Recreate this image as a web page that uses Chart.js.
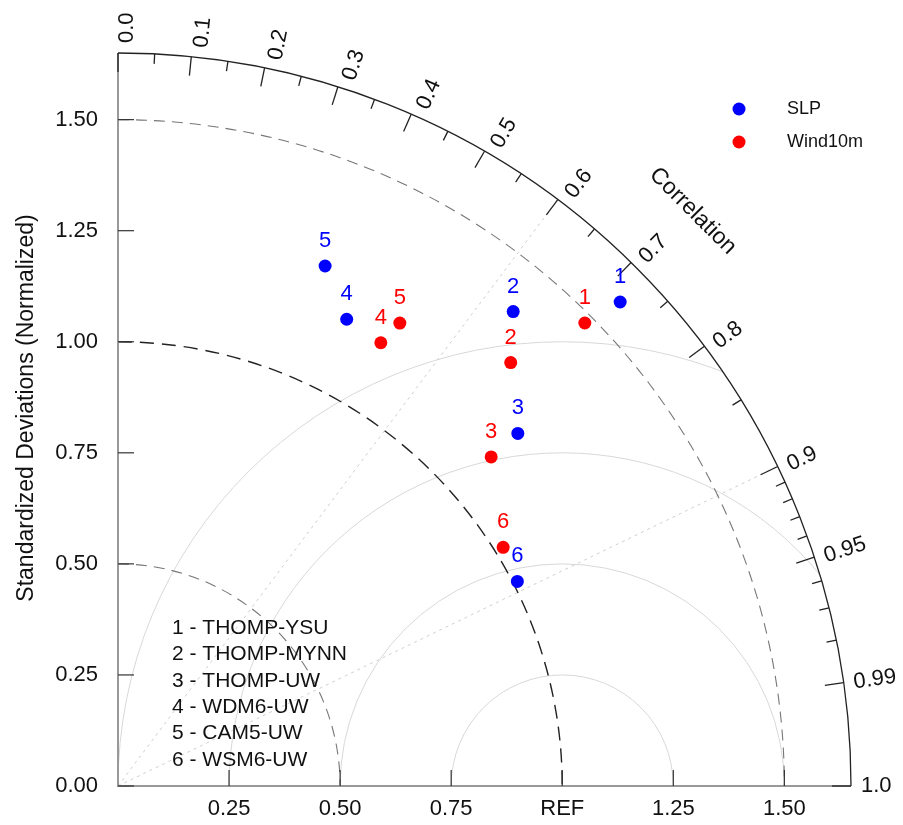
<!DOCTYPE html>
<html><head><meta charset="utf-8">
<script src="https://cdn.jsdelivr.net/npm/chart.js@4.4.0/dist/chart.umd.min.js"></script>
<style>html,body{margin:0;padding:0;background:#fff;}#wrap{width:903px;height:825px;}</style>
</head><body><div id="wrap"><canvas id="c" width="903" height="825"></canvas></div>
<script>
const modelNames = ['THOMP-YSU','THOMP-MYNN','THOMP-UW','WDM6-UW','CAM5-UW','WSM6-UW'];
const seriesNames = ['SLP','Wind10m'];
const seriesColors = ['#0000ff','#ff0000'];
const slpStd  = [1.57,1.39,1.20,1.17,1.26,1.01];
const slpCorr = [0.72,0.64,0.75,0.44,0.37,0.89];
const windStd  = [1.48,1.30,1.12,1.16,1.22,1.02];
const windCorr = [0.71,0.68,0.75,0.51,0.52,0.85];
const stdTickValues = [0,0.25,0.5,0.75,1.0,1.25,1.5];
const stdTickLabels = ['0.00','0.25','0.50','0.75','1.00','1.25','1.50'];
const xTickValues = [0.25,0.5,0.75,1.0,1.25,1.5];
const xTickLabels = ['0.25','0.50','0.75','REF','1.25','1.50'];
const corrMajor = [0,0.1,0.2,0.3,0.4,0.5,0.6,0.7,0.8,0.9,0.95,0.99,1.0];
const corrMajorLabels = ['0.0','0.1','0.2','0.3','0.4','0.5','0.6','0.7','0.8','0.9','0.95','0.99','1.0'];
const corrMinor = [0.05,0.15,0.25,0.35,0.45,0.55,0.65,0.75,0.85,0.91,0.92,0.93,0.94,0.96,0.97,0.98];
const stdArcs = [0.5,1.0,1.5];
const rmsArcs = [0.25,0.5,0.75,1.0];
const corrLines = [0.6,0.9];
const maxStd = 1.65;
const refStd = 1.0;

function toXY(std, corr){
  return {x: std*corr, y: std*Math.sqrt(Math.max(0,1-corr*corr))};
}
const slpPts = slpStd.map((s,i)=>toXY(s,slpCorr[i]));
const windPts = windStd.map((s,i)=>toXY(s,windCorr[i]));

const FONT = '"Liberation Sans", Arial, Helvetica, sans-serif';

const taylorPlugin = {
  id: 'taylor',
  beforeDatasetsDraw(chart){
    const ctx = chart.ctx, xs = chart.scales.x, ys = chart.scales.y;
    const ox = xs.getPixelForValue(0), oy = ys.getPixelForValue(0);
    const R = xs.getPixelForValue(maxStd) - ox;
    const pr = v => xs.getPixelForValue(v) - ox;
    ctx.save();
    // RMS arcs clipped to quadrant
    ctx.save();
    ctx.beginPath(); ctx.moveTo(ox,oy); ctx.arc(ox,oy,R,-Math.PI/2,0,false); ctx.closePath(); ctx.clip();
    const rx = xs.getPixelForValue(refStd);
    ctx.strokeStyle = '#d8d8d8'; ctx.lineWidth = 1; ctx.setLineDash([]);
    rmsArcs.forEach(r=>{ ctx.beginPath(); ctx.arc(rx,oy,pr(r),Math.PI,2*Math.PI,false); ctx.stroke(); });
    ctx.restore();
    // correlation dotted lines
    ctx.strokeStyle = '#cfcfcf'; ctx.lineWidth = 1; ctx.setLineDash([3,4]);
    corrLines.forEach(c=>{
      const t = Math.acos(c);
      ctx.beginPath(); ctx.moveTo(ox,oy);
      ctx.lineTo(xs.getPixelForValue(maxStd*Math.cos(t)), ys.getPixelForValue(maxStd*Math.sin(t)));
      ctx.stroke();
    });
    // std arcs
    stdArcs.forEach(r=>{
      if (r===refStd){ ctx.strokeStyle='#222'; ctx.lineWidth=1.4; ctx.setLineDash([14,8]); }
      else { ctx.strokeStyle='#777'; ctx.lineWidth=1.1; ctx.setLineDash([11,7]); }
      ctx.beginPath(); ctx.arc(ox,oy,pr(r),-Math.PI/2,0,false); ctx.stroke();
    });
    ctx.setLineDash([]);
    // axes
    ctx.strokeStyle = '#999'; ctx.lineWidth = 2;
    ctx.beginPath(); ctx.moveTo(ox, oy-R); ctx.lineTo(ox, oy); ctx.lineTo(ox+R, oy); ctx.stroke();
    // outer arc
    ctx.strokeStyle = '#222'; ctx.lineWidth = 1.3;
    ctx.beginPath(); ctx.arc(ox,oy,R,-Math.PI/2,0,false); ctx.stroke();
    // corr ticks
    ctx.strokeStyle = '#222'; ctx.lineWidth = 1.3;
    const tick = (c,len)=>{
      const t = Math.acos(c), ct=Math.cos(t), st=Math.sin(t);
      ctx.beginPath(); ctx.moveTo(ox+R*ct, oy-R*st); ctx.lineTo(ox+(R-len)*ct, oy-(R-len)*st); ctx.stroke();
    };
    corrMajor.forEach(c=>tick(c,19));
    corrMinor.forEach(c=>tick(c,10));
    // std ticks on axes
    ctx.strokeStyle = '#333'; ctx.lineWidth = 1.2;
    stdTickValues.forEach(v=>{
      const py = ys.getPixelForValue(v);
      ctx.beginPath(); ctx.moveTo(ox,py); ctx.lineTo(ox+16,py); ctx.stroke();
    });
    xTickValues.forEach(v=>{
      const px = xs.getPixelForValue(v);
      ctx.beginPath(); ctx.moveTo(px,oy); ctx.lineTo(px,oy-16); ctx.stroke();
    });
    // text
    ctx.fillStyle = '#111';
    ctx.font = '22px ' + FONT;
    ctx.textAlign = 'right'; ctx.textBaseline = 'middle';
    stdTickValues.forEach((v,i)=>ctx.fillText(stdTickLabels[i], ox-20, ys.getPixelForValue(v)));
    ctx.textAlign = 'center'; ctx.textBaseline = 'middle';
    xTickValues.forEach((v,i)=>ctx.fillText(xTickLabels[i], xs.getPixelForValue(v), oy+23));
    // corr labels
    corrMajor.forEach((c,i)=>{
      const t = Math.acos(c), rr = R+10;
      ctx.save();
      ctx.translate(ox+rr*Math.cos(t), oy-rr*Math.sin(t));
      ctx.rotate(-t);
      ctx.textAlign='left'; ctx.textBaseline='middle';
      ctx.fillText(corrMajorLabels[i], 0, 9*Math.sin(t));
      ctx.restore();
    });
    // Correlation title
    ctx.font = '23px ' + FONT;
    ctx.save();
    const tt = Math.PI/4, rt = pr(1.83);
    ctx.translate(ox+rt*Math.cos(tt), oy-rt*Math.sin(tt));
    ctx.rotate(tt);
    ctx.textAlign='center'; ctx.textBaseline='middle';
    ctx.fillText('Correlation', 0, 0);
    ctx.restore();
    // y title
    ctx.save();
    ctx.translate(27, 408);
    ctx.rotate(-Math.PI/2);
    ctx.textAlign='center'; ctx.textBaseline='middle';
    ctx.fillText('Standardized Deviations (Normalized)', 0, 0);
    ctx.restore();
    ctx.restore();
  },
  afterDatasetsDraw(chart){
    const ctx = chart.ctx;
    ctx.save();
    ctx.font = '22px ' + FONT;
    ctx.textAlign='center'; ctx.textBaseline='middle';
    chart.data.datasets.forEach((ds,di)=>{
      const meta = chart.getDatasetMeta(di);
      ctx.fillStyle = seriesColors[di];
      meta.data.forEach((el,i)=>ctx.fillText(String(i+1), el.x, el.y-25));
    });
    // legend
    ctx.font = '18px ' + FONT;
    ctx.textAlign='left';
    seriesNames.forEach((n,i)=>{
      const y = 109 + i*33;
      ctx.fillStyle = seriesColors[i];
      ctx.beginPath(); ctx.arc(739, y, 6.5, 0, 2*Math.PI); ctx.fill();
      ctx.fillStyle = '#111';
      ctx.fillText(n, 787, y);
    });
    // model list
    ctx.font = '21px ' + FONT;
    ctx.fillStyle = '#111';
    modelNames.forEach((m,i)=>ctx.fillText((i+1)+' - '+m, 172, 628 + i*26.4));
    ctx.restore();
  }
};

new Chart(document.getElementById('c'), {
  type: 'scatter',
  data: {
    datasets: [
      {label: seriesNames[0], data: slpPts, backgroundColor: seriesColors[0], borderColor: seriesColors[0], pointRadius: 6.5, pointHoverRadius: 6.5, borderWidth: 0},
      {label: seriesNames[1], data: windPts, backgroundColor: seriesColors[1], borderColor: seriesColors[1], pointRadius: 6.5, pointHoverRadius: 6.5, borderWidth: 0}
    ]
  },
  options: {
    responsive: false,
    animation: false,
    devicePixelRatio: 1,
    layout: {padding: {left: 118, top: 53, right: 52, bottom: 39}},
    scales: {
      x: {type: 'linear', min: 0, max: maxStd, display: false},
      y: {type: 'linear', min: 0, max: maxStd, display: false}
    },
    plugins: {legend: {display: false}, tooltip: {enabled: false}}
  },
  plugins: [taylorPlugin]
});
</script></body></html>
